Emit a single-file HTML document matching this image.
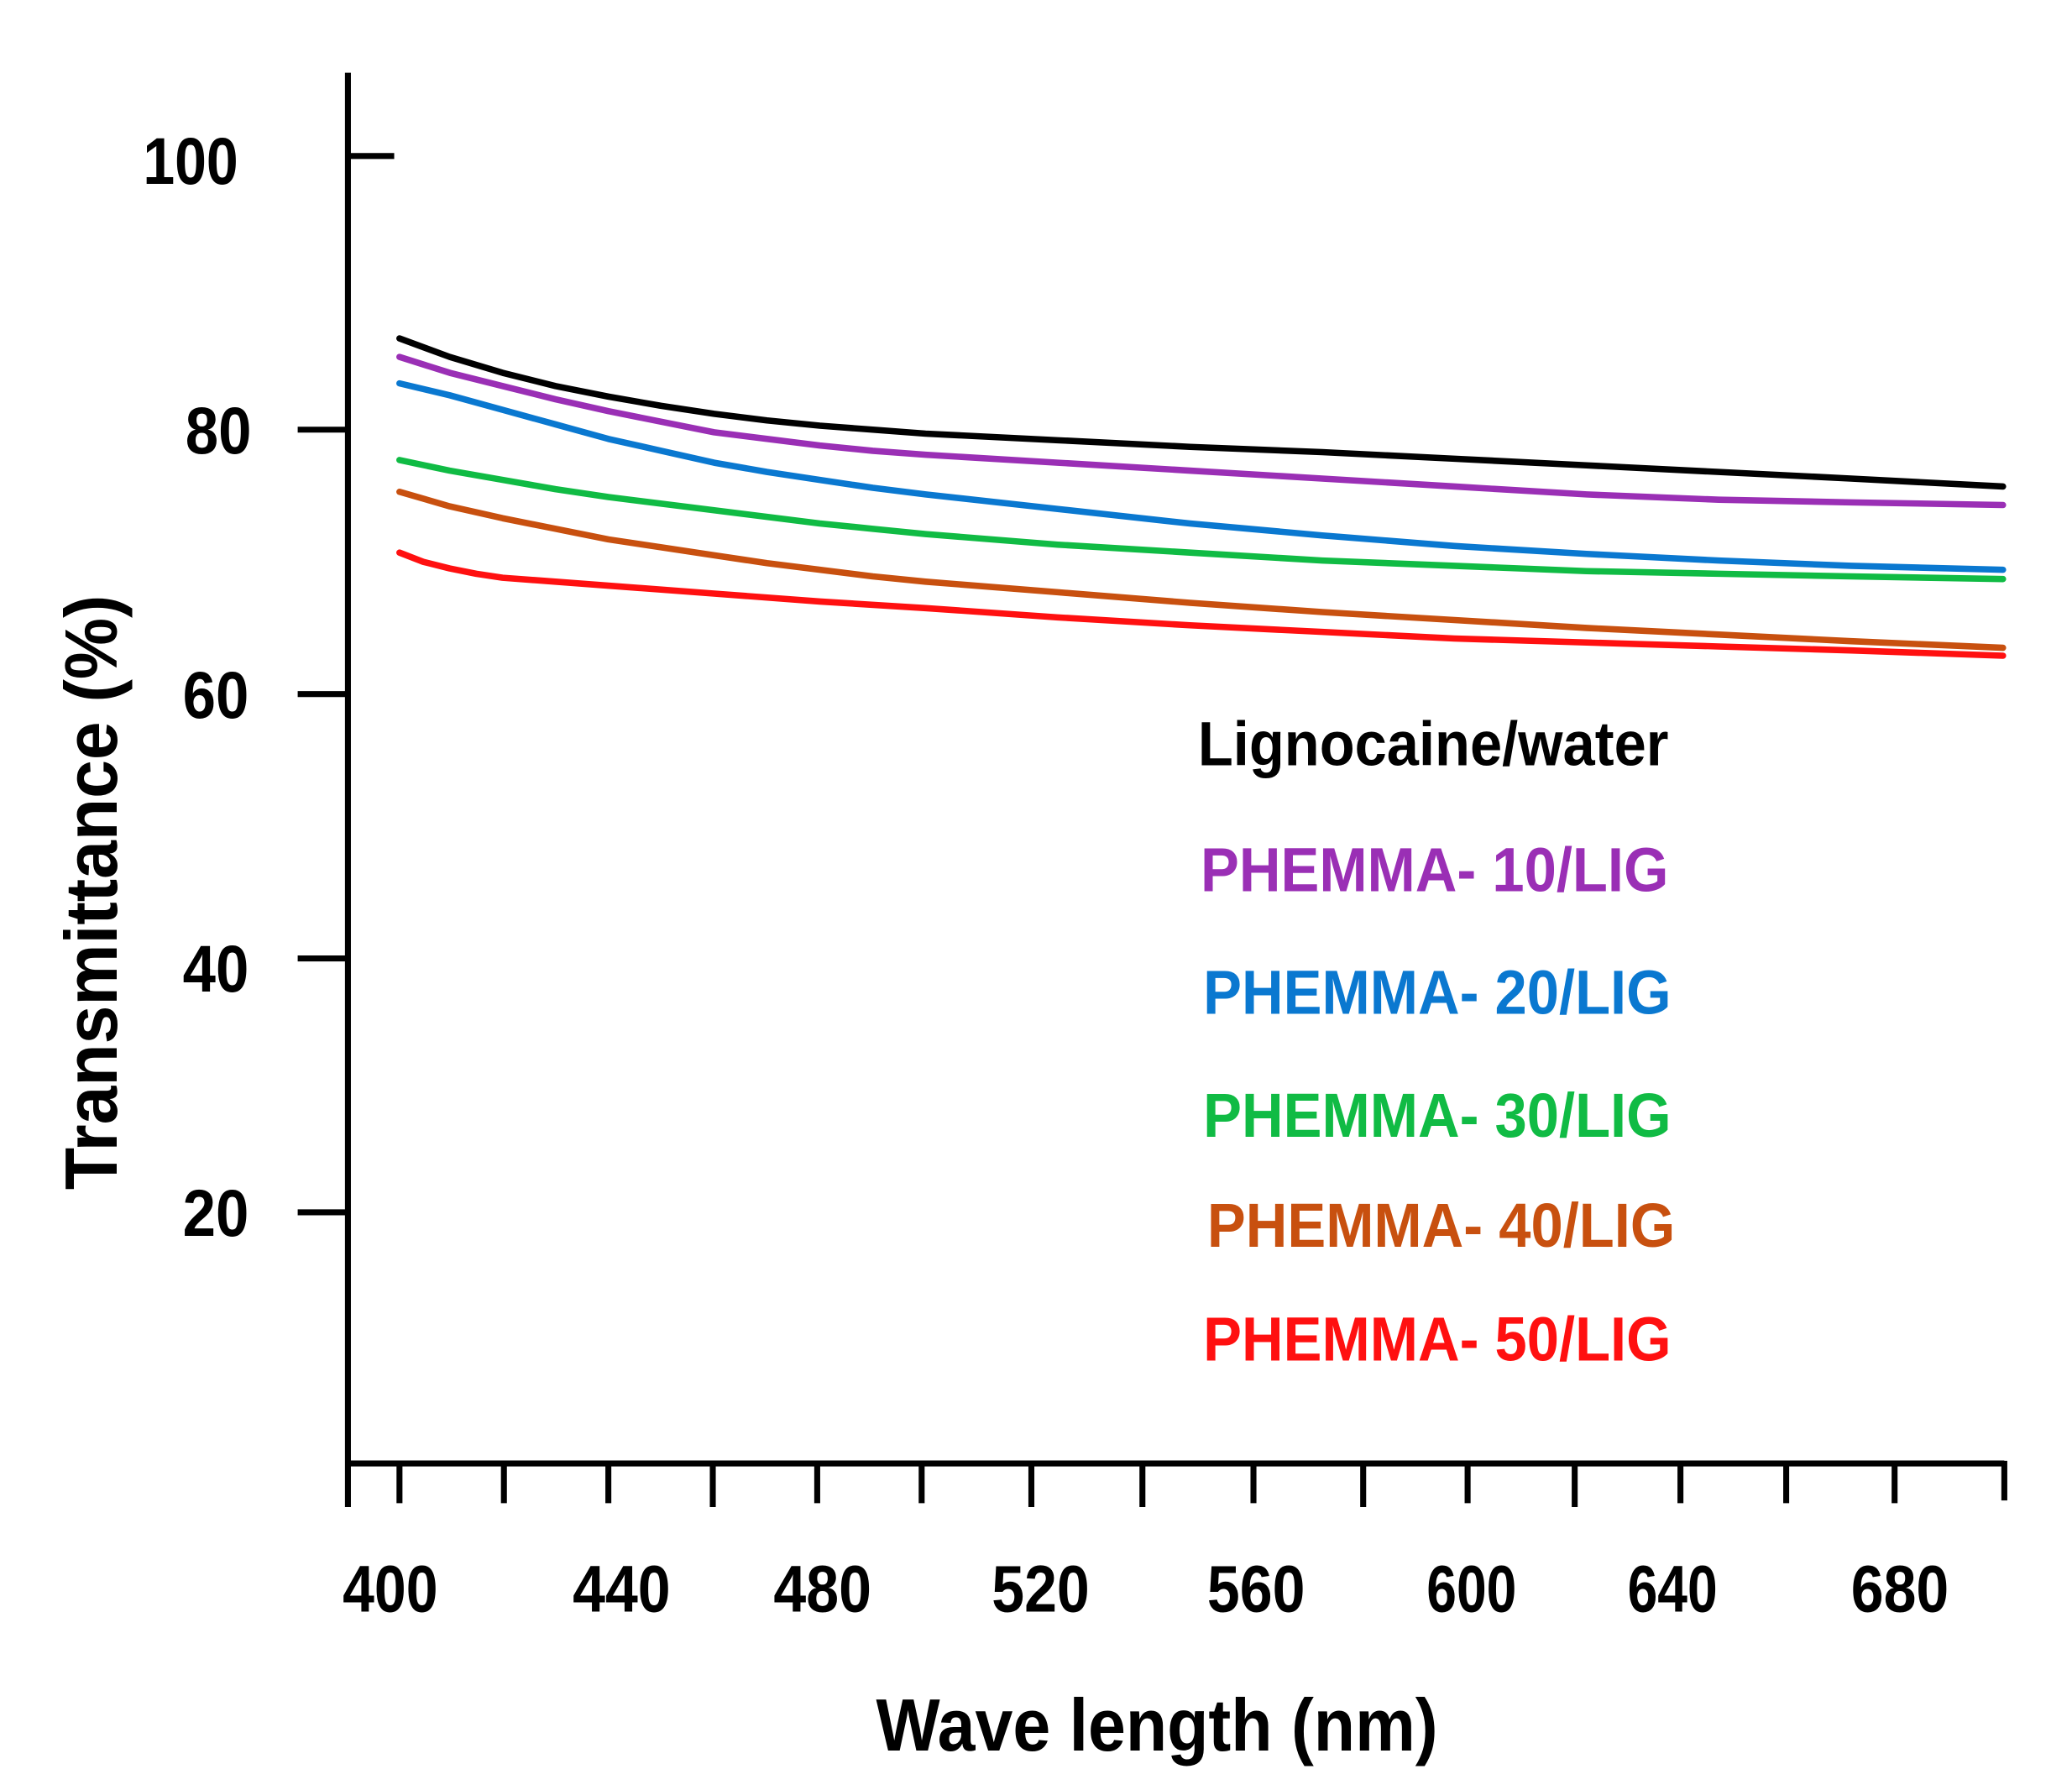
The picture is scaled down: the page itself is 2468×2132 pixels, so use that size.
<!DOCTYPE html>
<html><head><meta charset="utf-8"><style>html,body{margin:0;padding:0;background:#fff}svg{display:block}</style></head>
<body>
<svg width="2468" height="2132" viewBox="0 0 1567 1354" xmlns="http://www.w3.org/2000/svg">
<rect width="1567" height="1354" fill="#fff"/>
<g stroke="#000" stroke-width="4.5" fill="none">
<line x1="263" y1="55" x2="263" y2="1140"/>
<line x1="261" y1="1107" x2="1516" y2="1107"/>
<line x1="263" y1="118" x2="298" y2="118"/>
<line x1="225" y1="325" x2="263" y2="325"/>
<line x1="225" y1="525" x2="263" y2="525"/>
<line x1="225" y1="725" x2="263" y2="725"/>
<line x1="225" y1="917" x2="263" y2="917"/>
<path d="M302 1107V1137M381 1107V1137M460 1107V1137M539 1107V1140M618 1107V1137M697 1107V1137M780 1107V1140M864 1107V1140M948 1107V1137M1031 1107V1140M1110 1107V1137M1191 1107V1140M1271 1107V1137M1351 1107V1137M1433 1107V1137M1516 1105V1135"/>
</g>
<g font-family="Liberation Sans, sans-serif" font-weight="bold" font-size="50" fill="#000">
<text x="180" y="139" text-anchor="end" textLength="72" lengthAdjust="spacingAndGlyphs">100</text>
<text x="190" y="343" text-anchor="end" textLength="50" lengthAdjust="spacingAndGlyphs">80</text>
<text x="188" y="543" text-anchor="end" textLength="50" lengthAdjust="spacingAndGlyphs">60</text>
<text x="188" y="750" text-anchor="end" textLength="50" lengthAdjust="spacingAndGlyphs">40</text>
<text x="188" y="935" text-anchor="end" textLength="50" lengthAdjust="spacingAndGlyphs">20</text>
<g text-anchor="middle">
<text x="295" y="1219" textLength="72" lengthAdjust="spacingAndGlyphs">400</text>
<text x="470" y="1219" textLength="74" lengthAdjust="spacingAndGlyphs">440</text>
<text x="622" y="1219" textLength="74" lengthAdjust="spacingAndGlyphs">480</text>
<text x="787" y="1219" textLength="74" lengthAdjust="spacingAndGlyphs">520</text>
<text x="950" y="1219" textLength="74" lengthAdjust="spacingAndGlyphs">560</text>
<text x="1113" y="1219" textLength="68" lengthAdjust="spacingAndGlyphs">600</text>
<text x="1265" y="1219" textLength="68" lengthAdjust="spacingAndGlyphs">640</text>
<text x="1437" y="1219" textLength="74" lengthAdjust="spacingAndGlyphs">680</text>
</g>
<text x="875" y="1324" font-size="56" text-anchor="middle" textLength="425" lengthAdjust="spacingAndGlyphs">Wave length (nm)</text>
<text transform="translate(88,675) rotate(-90)" font-size="56" text-anchor="middle" textLength="450" lengthAdjust="spacingAndGlyphs">Transmittance (%)</text>
</g>
<g font-family="Liberation Sans, sans-serif" font-weight="bold" font-size="47">
<text x="906" y="579" fill="#000" textLength="356" lengthAdjust="spacingAndGlyphs">Lignocaine/water</text>
<text x="908" y="674" fill="#9a2fb5" textLength="354" lengthAdjust="spacingAndGlyphs">PHEMMA- 10/LIG</text>
<text x="910" y="767" fill="#0a78d0" textLength="354" lengthAdjust="spacingAndGlyphs">PHEMMA- 20/LIG</text>
<text x="910" y="860" fill="#10bb44" textLength="354" lengthAdjust="spacingAndGlyphs">PHEMMA- 30/LIG</text>
<text x="913" y="943" fill="#c8500f" textLength="354" lengthAdjust="spacingAndGlyphs">PHEMMA- 40/LIG</text>
<text x="910" y="1029" fill="#ff1010" textLength="354" lengthAdjust="spacingAndGlyphs">PHEMMA- 50/LIG</text>
</g>
<g fill="none" stroke-width="4.8" stroke-linejoin="round" stroke-linecap="round">
<polyline stroke="#000" points="302,256 340,270 380,282 420,292 460,300 500,307 540,313 580,318 620,322 660,325 700,328 800,333 900,338 1000,342 1100,347 1200,352 1300,357 1400,362 1515,368"/>
<polyline stroke="#9a2fb5" points="302,270 340,282 380,292 420,302 460,311 500,319 540,327 580,332 620,337 660,341 700,344 800,350 900,356 1000,362 1100,368 1200,374 1300,378 1400,380 1515,382"/>
<polyline stroke="#0a78d0" points="302,290 340,299 380,310 420,321 460,332 500,341 540,350 580,357 620,363 660,369 700,374 800,385 900,396 1000,405 1100,413 1200,419 1300,424 1400,428 1515,431"/>
<polyline stroke="#10bb44" points="302,348 340,356 380,363 420,370 460,376 500,381 540,386 580,391 620,396 660,400 700,404 800,412 900,418 1000,424 1100,428 1200,432 1300,434 1400,436 1515,438"/>
<polyline stroke="#c8500f" points="302,372 340,383 380,392 420,400 460,408 500,414 540,420 580,426 620,431 660,436 700,440 800,448 900,456 1000,463 1100,469 1200,475 1300,480 1400,485 1515,490"/>
<polyline stroke="#ff1010" points="302,418 320,425 340,430 360,434 380,437 420,440 460,443 540,449 620,455 700,460 800,467 900,473 1000,478 1100,483 1200,486 1300,489 1400,492 1515,496"/>
</g>
</svg>
</body></html>
